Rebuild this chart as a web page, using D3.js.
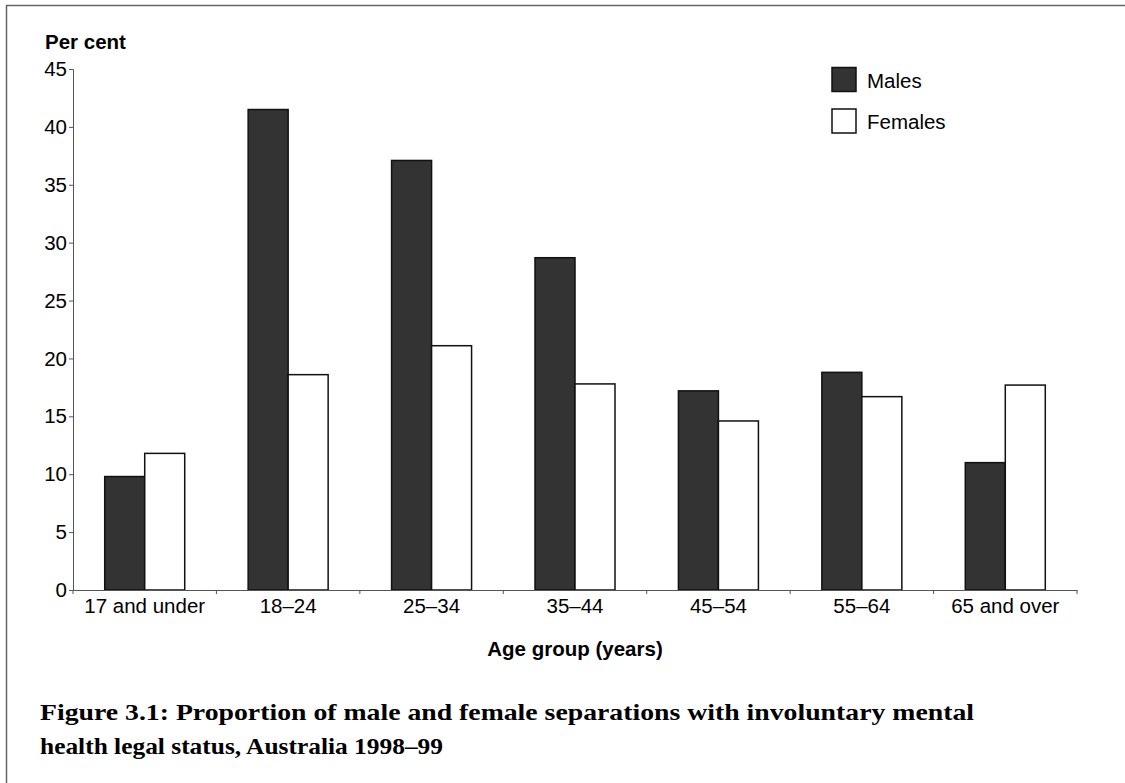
<meta charset="utf-8">
<style>
  body { margin: 0; background: #fff; }
  .axis text { font-family: "Liberation Sans", Arial, sans-serif; font-size: 20.5px; fill: #000; }
  .axis path, .axis line { stroke: #555; }
  .title { font-family: "Liberation Sans", Arial, sans-serif; font-weight: bold; font-size: 20.5px; }
  .legend text { font-family: "Liberation Sans", Arial, sans-serif; font-size: 20.5px; }
  .caption { font-family: "Liberation Serif", "DejaVu Serif", serif; font-weight: bold; font-size: 23.5px; }
</style>
<script src="https://cdn.jsdelivr.net/npm/d3@7"></script>
<svg id="chart" width="1125" height="783"></svg>
<script>
  // data
  var ageGroups = ['17 and under', '18–24', '25–34', '35–44', '45–54', '55–64', '65 and over'];
  var males   = [9.8, 41.5, 37.1, 28.7, 17.2, 18.8, 11.0];
  var females = [11.8, 18.6, 21.1, 17.8, 14.6, 16.7, 17.7];
  var seriesNames = ['Males', 'Females'];
  var yTicks = [0, 5, 10, 15, 20, 25, 30, 35, 40, 45];

  var svg = d3.select('#chart');
  var mLeft = 73, mRight = 1077, mTop = 69, mBottom = 590;

  // frame (top and left edge)
  svg.append('line').attr('x1', 6).attr('x2', 1125).attr('y1', 5.5).attr('y2', 5.5)
    .attr('stroke', '#666').attr('stroke-width', 1.5);
  svg.append('line').attr('x1', 6.5).attr('x2', 6.5).attr('y1', 5).attr('y2', 783)
    .attr('stroke', '#666').attr('stroke-width', 1.5);

  var x = d3.scaleBand().domain(ageGroups).range([mLeft, mRight]).padding(0);
  var groupW = 80;
  var x1 = d3.scaleBand().domain(seriesNames)
    .range([(x.bandwidth() - groupW) / 2, (x.bandwidth() + groupW) / 2]);
  var y = d3.scaleLinear().domain([0, 45]).range([mBottom, mTop]);

  var rows = ageGroups.map(function(g, i) {
    return { group: g, vals: [{ s: 'Males', v: males[i] }, { s: 'Females', v: females[i] }] };
  });

  var colors = { Males: '#333333', Females: '#ffffff' };

  svg.append('g').selectAll('g')
    .data(rows).enter().append('g')
    .attr('transform', function(d) { return 'translate(' + x(d.group) + ',0)'; })
    .selectAll('rect')
    .data(function(d) { return d.vals; }).enter().append('rect')
    .attr('x', function(d) { return x1(d.s); })
    .attr('width', x1.bandwidth())
    .attr('y', function(d) { return y(d.v); })
    .attr('height', function(d) { return y(0) - y(d.v); })
    .attr('fill', function(d) { return colors[d.s]; })
    .attr('stroke', '#111')
    .attr('stroke-width', 1.5);

  // y axis
  var yAxis = svg.append('g').attr('class', 'axis')
    .attr('transform', 'translate(' + mLeft + ',0)')
    .call(d3.axisLeft(y).tickValues(yTicks).tickSize(4).tickSizeOuter(4));
  yAxis.selectAll('text').attr('x', -6);

  // x axis with ticks at the band edges
  var xAxis = svg.append('g').attr('class', 'axis')
    .attr('transform', 'translate(0,' + mBottom + ')')
    .call(d3.axisBottom(x).tickSize(0).tickSizeOuter(0));
  xAxis.selectAll('text').attr('dy', 0).attr('y', 23);
  xAxis.selectAll('.edge')
    .data(d3.range(ageGroups.length + 1)).enter().append('line')
    .attr('class', 'edge')
    .attr('x1', function(i) { return mLeft + i * x.bandwidth(); })
    .attr('x2', function(i) { return mLeft + i * x.bandwidth(); })
    .attr('y1', 0).attr('y2', 4);

  svg.append('text').attr('class', 'title').attr('x', 45).attr('y', 49).text('Per cent');
  svg.append('text').attr('class', 'title').attr('x', 575).attr('y', 656)
    .attr('text-anchor', 'middle').text('Age group (years)');

  // legend
  var legend = svg.append('g').attr('class', 'legend')
    .selectAll('g').data(seriesNames).enter().append('g')
    .attr('transform', function(d, i) { return 'translate(832,' + (67.5 + i * 41.5) + ')'; });
  legend.append('rect').attr('width', 24).attr('height', 24)
    .attr('fill', function(d) { return colors[d]; })
    .attr('stroke', '#111').attr('stroke-width', 1.5);
  legend.append('text').attr('x', 35).attr('y', 20).text(function(d) { return d; });

  // caption
  var cap = ['Figure 3.1: Proportion of male and female separations with involuntary mental',
             'health legal status, Australia 1998–99'];
  var capW = [934, 403];
  svg.selectAll('.caption').data(cap).enter().append('text')
    .attr('class', 'caption')
    .attr('x', 40)
    .attr('y', function(d, i) { return 720 + i * 34; })
    .attr('textLength', function(d, i) { return capW[i]; })
    .attr('lengthAdjust', 'spacingAndGlyphs')
    .text(function(d) { return d; });
</script>
